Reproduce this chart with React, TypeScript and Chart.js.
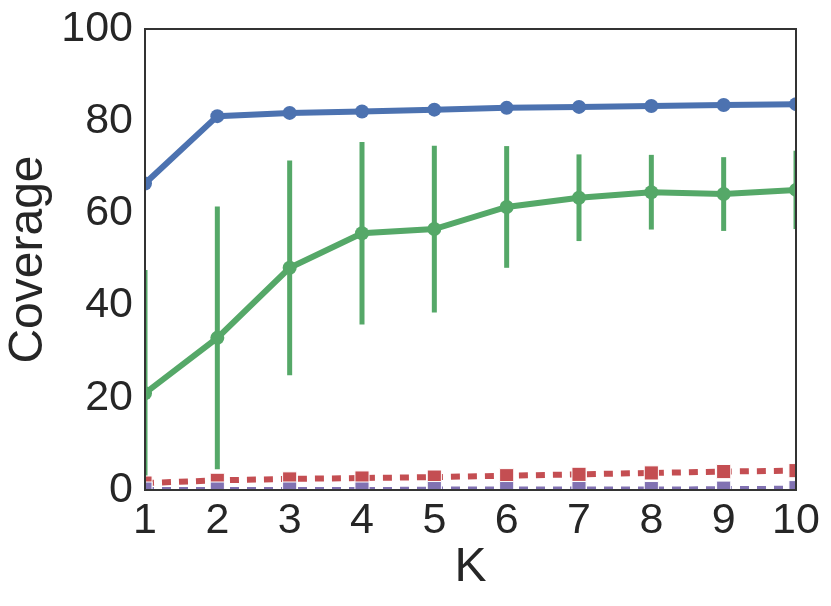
import React, { useEffect, useRef } from "react";
import { Chart, registerables } from "chart.js";

Chart.register(...registerables);

const kValues = [1, 2, 3, 4, 5, 6, 7, 8, 9, 10];
const blueSeries = [66.5, 81.1, 81.8, 82.1, 82.5, 82.9, 83.1, 83.3, 83.5, 83.7];
const greenSeries = [21.0, 33.0, 48.2, 55.7, 56.6, 61.4, 63.4, 64.6, 64.2, 65.1];
const greenErr = [26.7, 28.5, 23.3, 19.8, 18.1, 13.2, 9.4, 8.1, 8.0, 8.5];
const redSeries = [1.5, 2.1, 2.4, 2.6, 2.8, 3.1, 3.4, 3.7, 4.0, 4.2];
const purpleSeries = [0.2, 0.2, 0.2, 0.2, 0.3, 0.3, 0.3, 0.3, 0.4, 0.5];
const yTicks = [0, 20, 40, 60, 80, 100];

const BLUE = "#4C72B0";
const GREEN = "#55A868";
const RED = "#C44E52";
const PURPLE = "#8172B2";
const TEXT = "#262626";
const FONT = "'Liberation Sans', Arial, sans-serif";

const errorBarPlugin = {
  id: "errorBars",
  beforeDatasetsDraw(chart: any) {
    const { ctx, chartArea, scales } = chart;
    ctx.save();
    ctx.beginPath();
    ctx.rect(chartArea.left, chartArea.top, chartArea.right - chartArea.left, chartArea.bottom - chartArea.top);
    ctx.clip();
    ctx.strokeStyle = GREEN;
    ctx.lineWidth = 5;
    ctx.lineCap = "butt";
    kValues.forEach((k, i) => {
      const x = scales.x.getPixelForValue(k);
      const y1 = scales.y.getPixelForValue(greenSeries[i] - greenErr[i]);
      const y2 = scales.y.getPixelForValue(greenSeries[i] + greenErr[i]);
      ctx.beginPath();
      ctx.moveTo(x, y1);
      ctx.lineTo(x, y2);
      ctx.stroke();
    });
    ctx.restore();
  },
};

const framePlugin = {
  id: "frame",
  afterDraw(chart: any) {
    const { ctx, chartArea } = chart;
    ctx.save();
    ctx.strokeStyle = "#333333";
    ctx.lineWidth = 2;
    ctx.strokeRect(chartArea.left, chartArea.top, chartArea.right - chartArea.left, chartArea.bottom - chartArea.top);
    ctx.restore();
  },
};

export default function App() {
  const canvasRef = useRef<HTMLCanvasElement | null>(null);

  useEffect(() => {
    document.body.style.margin = "0";
    const canvas = canvasRef.current;
    if (!canvas) return;
    const toPts = (arr: number[]) => arr.map((v, i) => ({ x: kValues[i], y: v }));
    const chart = new Chart(canvas, {
      type: "line",
      data: {
        datasets: [
          {
            data: toPts(purpleSeries),
            borderColor: PURPLE,
            backgroundColor: PURPLE,
            borderWidth: 4,
            borderDash: [9, 8],
            pointStyle: "rect",
            pointRadius: 10,
            pointBorderColor: "#ffffff",
            pointBorderWidth: 1,
            clip: { left: 0, top: 0, right: 0, bottom: 0 },
            order: 0,
          } as any,
          {
            data: toPts(redSeries),
            borderColor: RED,
            backgroundColor: RED,
            borderWidth: 6,
            borderDash: [9, 8],
            pointStyle: "rect",
            pointRadius: 10,
            pointBorderColor: "#ffffff",
            pointBorderWidth: 1,
            clip: { left: 0, top: 0, right: 0, bottom: 0 },
            order: 1,
          } as any,
          {
            data: toPts(greenSeries),
            borderColor: GREEN,
            backgroundColor: GREEN,
            borderWidth: 6,
            pointRadius: 7,
            pointBorderWidth: 0,
            clip: { left: 0, top: 0, right: 0, bottom: 0 },
            order: 2,
          } as any,
          {
            data: toPts(blueSeries),
            borderColor: BLUE,
            backgroundColor: BLUE,
            borderWidth: 6,
            pointRadius: 7,
            pointBorderWidth: 0,
            clip: { left: 0, top: 0, right: 0, bottom: 0 },
            order: 3,
          } as any,
        ],
      },
      options: {
        animation: false,
        responsive: false,
        devicePixelRatio: 1,
        layout: { padding: { top: 29, right: 35, left: 0, bottom: 0 } },
        plugins: { legend: { display: false }, tooltip: { enabled: false } },
        elements: { line: { tension: 0 } },
        scales: {
          x: {
            type: "linear",
            min: 1,
            max: 10,
            grid: { display: false, drawTicks: false },
            border: { display: false },
            ticks: {
              stepSize: 1,
              color: TEXT,
              padding: 5,
              font: { family: FONT, size: 43 },
              maxRotation: 0,
              autoSkip: false,
            },
            title: {
              display: true,
              text: "K",
              color: TEXT,
              font: { family: FONT, size: 48 },
              padding: { top: 0, bottom: 9 },
            },
            afterFit(scale: any) {
              scale.height = 116;
              scale.paddingLeft = 0;
              scale.paddingRight = 0;
            },
          },
          y: {
            type: "linear",
            min: 0,
            max: 100,
            grid: { display: false, drawTicks: false },
            border: { display: false },
            afterBuildTicks(scale: any) {
              scale.ticks = yTicks.map((v) => ({ value: v }));
            },
            ticks: {
              color: TEXT,
              padding: 12,
              font: { family: FONT, size: 43 },
            },
            title: {
              display: true,
              text: "Coverage",
              color: TEXT,
              font: { family: FONT, size: 48 },
              padding: { top: 0, bottom: 0 },
            },
            afterFit(scale: any) {
              scale.width = 145;
              scale.paddingTop = 0;
              scale.paddingBottom = 0;
            },
          },
        },
      } as any,
      plugins: [errorBarPlugin, framePlugin],
    });
    return () => chart.destroy();
  }, []);

  return (
    <div style={{ width: 831, height: 606, background: "#ffffff" }}>
      <canvas ref={canvasRef} width={831} height={606} style={{ display: "block" }} />
    </div>
  );
}
